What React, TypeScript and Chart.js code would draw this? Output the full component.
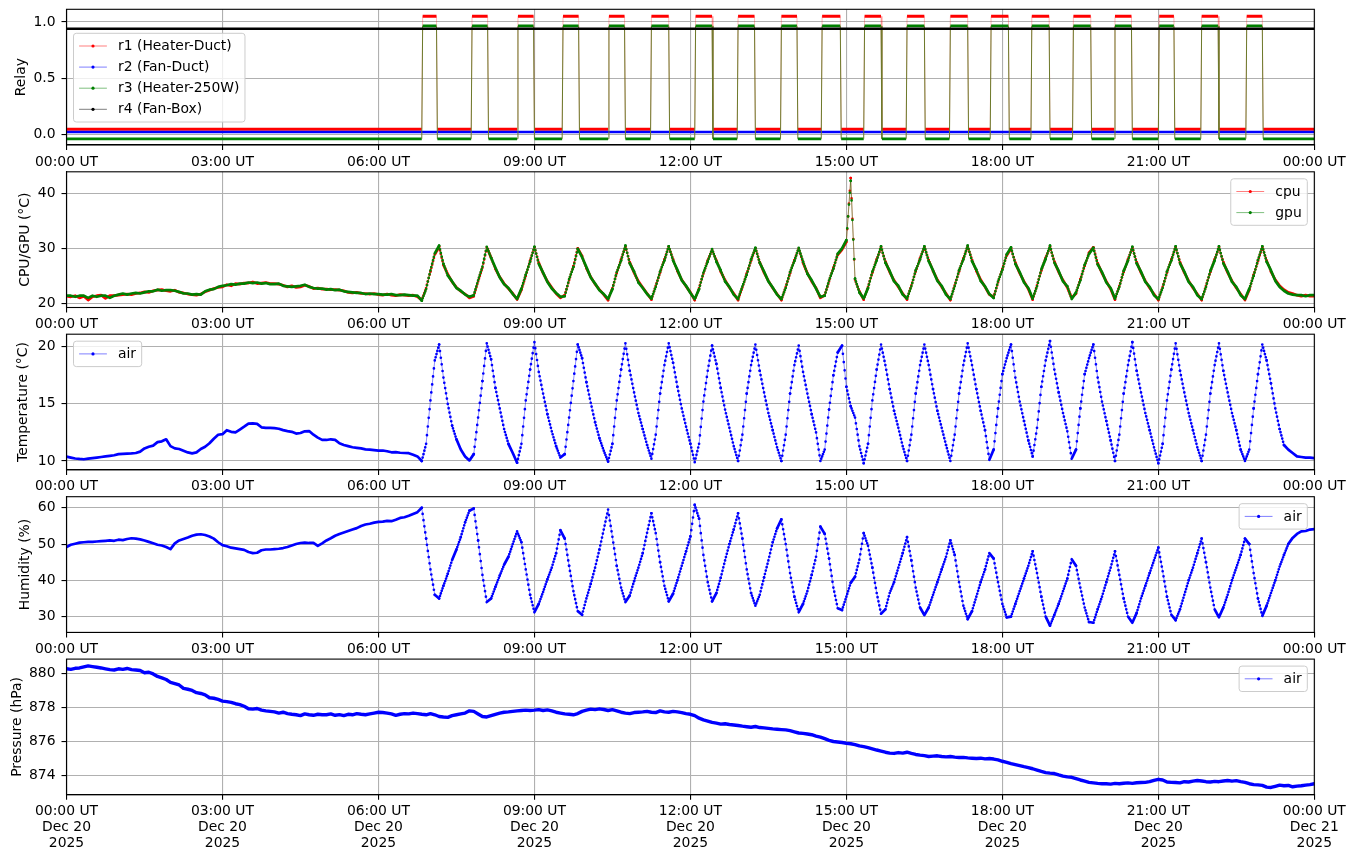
import React, { useEffect, useRef } from 'react';
import { Chart, registerables } from 'chart.js';

Chart.register(...registerables);

const FONT = "'DejaVu Sans', 'Liberation Sans', sans-serif";
const FS = 13.9;
Chart.defaults.font.family = FONT;
Chart.defaults.font.size = FS;
Chart.defaults.color = '#000';

// ---------------- data ----------------
const SAMPLE_STEP_MIN = 5; // one reading every 5 minutes, 00:00 .. 24:00
const X_TICKS = [0, 180, 360, 540, 720, 900, 1080, 1260, 1440];
const X_TICK_TIMES = ['00:00 UT', '03:00 UT', '06:00 UT', '09:00 UT', '12:00 UT', '15:00 UT', '18:00 UT', '21:00 UT', '00:00 UT'];
const X_TICK_DATES = ['Dec 20', 'Dec 20', 'Dec 20', 'Dec 20', 'Dec 20', 'Dec 20', 'Dec 20', 'Dec 20', 'Dec 21'];
const X_TICK_YEARS = ['2025', '2025', '2025', '2025', '2025', '2025', '2025', '2025', '2025'];

// heater relays (r1, r3) switch-on / switch-off minutes of the day
const HEATER_ON = [410, 467, 520, 572, 625, 674, 725, 774, 824, 871, 920, 969, 1019, 1066, 1113, 1161, 1209, 1260, 1309, 1361];
const HEATER_OFF = [427, 486, 539, 591, 644, 695, 745, 794, 843, 893, 940, 990, 1040, 1087, 1134, 1182, 1229, 1278, 1329, 1380];
const FAN_DUCT_STATE = 0;
const FAN_BOX_STATE = 1;
const RELAY_OFFSETS = [0.05, 0.025, -0.035, -0.06];
const RELAY_LABELS = ['r1 (Heater-Duct)', 'r2 (Fan-Duct)', 'r3 (Heater-250W)', 'r4 (Fan-Box)'];

const CPU_TEMP = [
  21.30,21.20,21.40,21.00,21.30,20.60,21.20,21.40,21.50,20.90,21.40,21.40,
  21.50,21.60,21.70,21.60,21.80,21.90,22.10,22.00,22.30,22.40,22.50,22.30,
  22.20,22.40,22.00,21.90,21.70,21.60,21.50,21.70,22.10,22.40,22.70,22.90,
  23.00,23.40,23.20,23.60,23.50,23.70,23.70,23.90,23.60,23.70,23.80,23.60,
  23.60,23.50,23.30,23.00,23.20,22.90,23.00,23.30,23.10,22.70,22.80,22.60,
  22.60,22.50,22.50,22.40,22.30,22.00,21.90,22.00,21.80,21.80,21.70,21.80,
  21.60,21.50,21.70,21.50,21.40,21.60,21.50,21.40,21.50,21.20,20.60,22.80,
  25.80,28.90,30.30,27.00,25.30,23.90,22.90,22.20,21.70,21.00,21.30,24.00,
  26.50,30.20,28.30,26.30,24.80,23.60,22.70,21.80,20.70,22.50,25.00,27.80,
  30.20,27.40,25.50,24.00,22.90,21.80,21.00,21.50,24.20,26.80,30.00,28.60,
  26.40,24.80,23.50,22.50,21.60,20.60,22.80,25.50,28.00,30.30,27.50,25.60,
  24.00,22.90,21.80,20.70,23.20,25.60,28.00,30.30,28.00,25.90,24.30,23.10,
  22.00,20.60,22.80,25.40,27.80,29.80,27.80,25.80,24.20,22.90,21.80,20.60,
  22.90,25.40,27.80,30.00,27.50,25.60,24.10,22.80,21.70,20.60,23.00,25.50,
  27.90,30.00,27.40,25.50,24.00,22.80,21.00,21.50,24.00,26.50,28.80,29.80,
  31.20,42.80,24.30,22.20,20.70,23.00,25.60,28.00,30.20,27.60,25.70,24.20,
  23.00,21.80,20.70,23.30,25.80,28.20,30.20,27.90,25.90,24.30,23.00,21.80,
  20.60,23.30,25.80,28.20,30.30,27.90,25.90,24.30,23.00,21.60,21.20,23.80,
  26.30,28.70,30.00,27.40,25.50,24.00,22.60,20.70,23.30,26.00,28.30,30.30,
  27.60,25.70,24.20,22.90,21.00,21.80,24.40,26.80,29.20,30.20,27.30,25.50,
  24.00,22.60,20.70,23.20,25.70,28.00,30.10,27.50,25.60,24.10,22.80,21.70,
  20.60,23.00,25.60,28.00,30.20,27.50,25.60,24.10,22.80,21.70,20.60,23.20,
  25.70,28.00,30.20,27.50,25.60,24.10,22.80,21.70,20.60,22.50,25.20,27.70,
  30.20,27.80,25.80,24.30,23.20,22.50,22.00,21.80,21.50,21.30,21.50,21.30,
  21.30,
];

const GPU_TEMP = [
  21.40,21.40,21.20,21.40,21.40,21.00,21.40,21.20,21.40,21.40,21.00,21.40,
  21.60,21.80,21.60,21.80,21.90,21.80,22.00,22.20,22.20,22.50,22.30,22.40,
  22.40,22.30,22.10,21.80,21.80,21.60,21.70,21.60,22.20,22.50,22.60,23.00,
  23.20,23.30,23.50,23.40,23.60,23.60,23.80,23.70,23.80,23.60,23.70,23.50,
  23.50,23.60,23.20,23.10,23.00,23.10,23.20,23.40,23.00,22.80,22.70,22.70,
  22.50,22.60,22.40,22.50,22.20,22.10,22.00,21.90,21.90,21.70,21.80,21.70,
  21.70,21.60,21.60,21.70,21.50,21.50,21.60,21.50,21.40,21.40,20.50,22.60,
  26.00,29.10,30.50,27.20,25.10,24.00,22.80,22.30,21.60,21.20,21.50,24.20,
  26.70,30.30,28.30,26.50,24.70,23.50,22.80,21.70,20.80,22.70,25.20,27.60,
  30.30,27.20,25.60,23.90,22.70,21.90,21.20,21.30,24.40,26.60,29.90,28.40,
  26.60,24.70,23.60,22.40,21.70,20.80,22.60,25.70,27.80,30.50,27.30,25.80,
  23.80,22.80,21.70,20.90,23.00,25.80,27.80,30.40,27.80,26.10,24.20,23.20,
  21.90,20.80,22.60,25.60,27.60,29.90,27.60,26.00,24.00,23.00,21.60,20.80,
  23.10,25.20,28.00,30.10,27.40,25.80,24.00,22.90,21.60,20.80,22.80,25.70,
  27.70,30.10,27.60,25.40,24.20,22.70,21.20,21.40,24.20,26.30,29.00,30.00,
  31.50,42.30,24.50,22.00,20.90,22.80,25.80,27.80,30.40,27.40,25.90,24.00,
  23.20,21.60,20.90,23.10,26.00,28.00,30.40,27.70,26.00,24.10,23.20,21.60,
  20.80,23.10,26.00,28.00,30.50,27.70,26.10,24.10,23.10,21.70,21.00,24.00,
  26.10,28.90,30.20,27.20,25.70,23.80,22.80,20.90,23.10,26.20,28.10,30.50,
  27.40,25.90,24.00,23.10,20.80,22.00,24.20,27.00,29.00,30.10,27.10,25.70,
  23.80,22.80,20.90,23.00,25.90,27.80,30.30,27.30,25.80,23.90,23.00,21.50,
  20.80,22.80,25.80,27.80,30.40,27.30,25.80,23.90,23.00,21.50,20.80,23.00,
  25.90,27.80,30.40,27.30,25.80,23.90,23.00,21.50,20.80,22.70,25.00,27.90,
  30.40,27.60,26.00,24.10,23.00,22.30,21.80,21.60,21.50,21.50,21.30,21.50,
  21.50,
];

const AIR_TEMP = [
  10.38,10.30,10.22,10.18,10.15,10.20,10.25,10.30,10.35,10.40,10.45,10.50,
  10.60,10.63,10.65,10.67,10.70,10.82,11.10,11.25,11.35,11.65,11.72,11.90,
  11.30,11.10,11.05,10.90,10.75,10.67,10.75,11.05,11.25,11.55,11.95,12.30,
  12.35,12.70,12.55,12.50,12.75,13.00,13.27,13.30,13.25,12.95,12.90,12.90,
  12.87,12.82,12.70,12.62,12.55,12.40,12.45,12.60,12.62,12.30,12.05,11.85,
  11.84,11.90,11.85,11.55,11.40,11.30,11.20,11.15,11.10,11.02,11.00,10.95,
  10.90,10.92,10.85,10.76,10.78,10.72,10.70,10.68,10.55,10.40,10.00,11.50,
  15.30,18.80,20.20,17.30,15.00,13.10,11.90,11.00,10.40,10.05,10.60,13.80,
  17.00,20.30,18.90,16.40,14.60,12.80,11.50,10.70,9.85,11.50,15.30,18.00,
  20.40,17.80,15.90,14.10,12.60,11.30,10.30,10.60,13.80,17.00,20.20,19.00,
  16.90,15.10,13.40,12.00,10.90,9.95,11.50,15.30,18.00,20.30,17.90,16.00,
  14.20,12.80,11.40,10.20,12.30,15.90,18.40,20.30,18.60,16.50,14.60,13.00,
  11.50,9.90,11.50,15.20,17.90,20.10,18.50,16.40,14.50,12.90,11.30,10.00,
  12.30,15.90,18.40,20.20,17.90,16.00,14.20,12.70,11.20,10.00,12.30,15.90,
  18.40,20.10,17.80,15.90,14.10,12.50,10.00,11.00,14.50,17.50,19.50,20.10,
  16.50,14.80,13.80,11.30,9.80,11.50,15.30,18.00,20.20,18.40,16.30,14.40,
  12.90,11.30,10.00,12.30,15.90,18.40,20.20,18.40,16.30,14.40,12.90,11.40,
  10.00,12.30,15.90,18.40,20.30,18.40,16.30,14.40,12.70,10.10,11.00,14.60,
  17.60,19.00,20.20,17.30,15.20,13.50,11.80,10.40,12.90,16.50,18.80,20.50,
  18.00,16.00,14.20,12.60,10.20,11.00,14.60,17.60,19.00,20.20,17.30,15.20,
  13.50,11.80,10.00,12.30,15.90,18.40,20.40,17.90,16.00,14.20,12.70,11.20,
  9.80,11.50,15.30,18.00,20.30,17.90,16.00,14.20,12.70,11.20,10.00,12.30,
  15.90,18.40,20.30,17.90,16.00,14.20,12.70,11.00,10.00,11.00,14.60,17.60,
  20.20,18.80,16.80,14.60,12.80,11.40,11.00,10.70,10.40,10.35,10.30,10.30,
  10.25,
];

const AIR_HUMIDITY = [
  49.20,49.80,50.10,50.40,50.50,50.60,50.60,50.70,50.80,50.90,51.00,50.90,
  51.20,51.10,51.40,51.60,51.50,51.30,51.00,50.60,50.20,49.80,49.60,49.20,
  48.60,50.20,51.00,51.40,51.80,52.30,52.60,52.70,52.50,52.10,51.50,50.50,
  49.70,49.40,49.00,48.80,48.60,48.40,47.80,47.50,47.60,48.30,48.50,48.50,
  48.60,48.70,48.90,49.20,49.60,50.00,50.30,50.40,50.30,50.30,49.50,50.20,
  51.00,51.60,52.30,52.80,53.20,53.60,54.00,54.40,55.00,55.40,55.60,55.90,
  56.10,56.20,56.40,56.30,56.70,57.20,57.40,57.80,58.30,58.80,60.00,51.50,
  43.00,36.00,35.00,38.50,41.80,45.60,48.50,51.90,56.00,59.20,59.80,51.00,
  41.50,34.00,35.00,38.20,41.30,44.30,46.50,50.00,53.50,50.50,43.00,36.00,
  31.20,33.50,36.80,40.30,43.50,47.50,53.80,51.50,44.00,37.00,31.50,30.50,
  35.00,39.00,43.50,48.50,54.00,59.50,52.00,44.00,38.00,34.00,35.80,39.80,
  43.50,47.50,53.10,58.50,53.00,45.00,38.50,34.20,36.30,40.00,44.00,48.00,
  52.10,60.80,57.00,47.00,39.50,34.20,36.50,40.70,45.50,50.00,54.00,58.50,
  51.50,43.00,36.50,33.00,36.00,40.80,45.50,50.50,54.30,56.80,50.00,42.00,
  35.50,31.20,33.50,37.00,41.50,46.50,54.80,52.80,46.00,38.00,32.30,31.80,
  35.50,39.30,41.00,45.70,53.00,49.50,43.50,36.50,30.80,32.00,36.50,39.50,
  43.50,47.50,51.90,45.50,38.00,32.50,30.40,32.50,36.00,39.50,43.00,46.50,
  51.00,47.00,39.50,33.00,29.30,31.50,35.50,39.50,43.00,47.50,46.00,39.50,
  33.50,29.80,30.00,33.50,37.00,40.50,44.00,48.00,42.00,35.50,30.00,27.50,
  30.50,33.50,37.00,40.50,45.80,44.00,38.00,32.50,28.50,28.30,32.00,35.50,
  39.50,43.50,48.00,41.50,35.00,30.00,28.30,31.00,35.00,38.50,42.00,45.50,
  49.00,42.50,35.50,30.50,29.00,32.00,36.00,40.00,43.50,47.50,51.50,45.00,
  38.00,32.00,29.80,32.50,36.00,40.00,43.50,47.00,51.50,50.00,42.00,35.00,
  30.20,33.00,36.50,40.00,43.80,47.00,50.00,51.70,52.80,53.50,53.60,54.00,
  54.10,
];

const AIR_PRESSURE = [
  880.25,880.22,880.28,880.30,880.36,880.42,880.38,880.34,880.30,880.25,880.20,880.18,
  880.25,880.22,880.27,880.20,880.18,880.15,880.02,880.05,879.95,879.80,879.72,879.62,
  879.45,879.38,879.30,879.10,879.05,878.98,878.85,878.80,878.72,878.55,878.52,878.45,
  878.35,878.32,878.28,878.20,878.15,878.05,877.90,877.88,877.92,877.82,877.78,877.75,
  877.72,877.65,877.70,877.62,877.58,877.55,877.50,877.60,877.55,877.52,877.58,877.55,
  877.55,877.60,877.52,877.56,877.50,877.58,877.55,877.62,877.58,877.55,877.60,877.65,
  877.70,877.68,877.65,877.60,877.52,877.58,877.62,877.60,877.65,877.62,877.58,877.55,
  877.62,877.55,877.45,877.42,877.40,877.50,877.55,877.60,877.65,877.78,877.75,877.60,
  877.45,877.42,877.50,877.58,877.65,877.70,877.72,877.75,877.78,877.80,877.82,877.80,
  877.82,877.85,877.80,877.84,877.78,877.70,877.65,877.60,877.58,877.55,877.62,877.75,
  877.82,877.88,877.85,877.90,877.86,877.80,877.85,877.78,877.70,877.65,877.62,877.68,
  877.70,877.72,877.75,877.70,877.68,877.78,877.72,877.70,877.75,877.72,877.68,877.62,
  877.58,877.50,877.35,877.25,877.18,877.10,877.06,877.00,877.02,876.98,876.95,876.92,
  876.88,876.85,876.82,876.86,876.80,876.78,876.75,876.72,876.70,876.68,876.66,876.62,
  876.55,876.48,876.46,876.42,876.38,876.30,876.24,876.15,876.05,875.98,875.95,875.92,
  875.88,875.85,875.80,875.72,875.68,875.62,875.55,875.48,875.42,875.35,875.30,875.28,
  875.33,875.30,875.35,875.28,875.22,875.18,875.15,875.10,875.12,875.14,875.10,875.08,
  875.10,875.06,875.04,875.05,875.02,875.00,874.98,875.00,874.96,874.98,874.95,874.90,
  874.82,874.76,874.68,874.62,874.56,874.50,874.45,874.38,874.30,874.22,874.15,874.12,
  874.10,874.02,873.95,873.90,873.88,873.80,873.72,873.65,873.58,873.55,873.52,873.50,
  873.50,873.48,873.52,873.50,873.53,873.55,873.52,873.56,873.57,873.58,873.62,873.70,
  873.76,873.72,873.60,873.58,873.57,873.55,873.62,873.60,873.65,873.69,873.66,873.62,
  873.60,873.64,873.62,873.66,873.69,873.65,873.68,873.62,873.58,873.50,873.45,873.43,
  873.40,873.30,873.28,873.35,873.42,873.38,873.40,873.32,873.36,873.38,873.42,873.45,
  873.50,
];

const RELAY_TICKS = [0, 0.5, 1];
const RELAY_TICK_LABELS = ['0.0', '0.5', '1.0'];
const CPU_TICKS = [20, 30, 40];
const CPU_TICK_LABELS = ['20', '30', '40'];
const TEMP_TICKS = [10, 15, 20];
const TEMP_TICK_LABELS = ['10', '15', '20'];
const HUM_TICKS = [30, 40, 50, 60];
const HUM_TICK_LABELS = ['30', '40', '50', '60'];
const PRES_TICKS = [874, 876, 878, 880];
const PRES_TICK_LABELS = ['874', '876', '878', '880'];

// ---------------- helpers ----------------
const PLOT_H = 135.7;
const Y_AXIS_W = 66.5;
const RIGHT_PAD = 1355 - 1314.3;
const MARKS_PER_SEGMENT = 5; // the logger wrote one reading per minute

function withAlpha(hex: string, a: number) {
  const n = parseInt(hex.slice(1), 16);
  return `rgba(${(n >> 16) & 255},${(n >> 8) & 255},${n & 255},${a})`;
}

function toPoints(values: number[]) {
  return values.map((v, i) => ({ x: i * SAMPLE_STEP_MIN, y: v }));
}

function stepPoints(on: number[], off: number[], low: number, high: number) {
  const pts: { x: number; y: number }[] = [{ x: 0, y: low }];
  on.forEach((t, i) => {
    pts.push({ x: t, y: low }, { x: t + 1, y: high }, { x: off[i], y: high }, { x: off[i] + 1, y: low });
  });
  pts.push({ x: 1440, y: low });
  return pts;
}

function constPoints(v: number) {
  return [{ x: 0, y: v }, { x: 1440, y: v }];
}

const flat = (c: any) => Math.abs(c.p1.y - c.p0.y) < 0.5;

// marker-chain look: dots along the line at the logger's sampling density
function chainDash(c: any) {
  const len = Math.hypot(c.p1.x - c.p0.x, c.p1.y - c.p0.y);
  const step = len / MARKS_PER_SEGMENT;
  return step < 2.3 ? [] : [0, step];
}

function sensorDatasets(label: string, values: number[], color: string, order: number, width = 2.7) {
  const faint = withAlpha(color, 0.5);
  const data = toPoints(values);
  return [
    {
      label,
      data,
      order,
      mplColor: color,
      mplFaint: faint,
      borderColor: color,
      borderWidth: width,
      borderCapStyle: 'round',
      borderJoinStyle: 'round',
      pointRadius: 0,
      pointHoverRadius: 0,
      pointHitRadius: 0,
      segment: { borderDash: chainDash },
    },
    {
      label,
      data,
      order: order + 0.5,
      mplSkipLegend: true,
      borderColor: faint,
      borderWidth: 0.9,
      pointRadius: 0,
      pointHoverRadius: 0,
      pointHitRadius: 0,
    },
  ];
}

function relayDataset(label: string, data: any[], color: string, transColor: string, transW: number, bandW: number, order: number) {
  return {
    label,
    data,
    order,
    mplColor: color,
    mplFaint: withAlpha(color, 0.5),
    borderColor: color,
    borderWidth: bandW,
    pointRadius: 0,
    pointHoverRadius: 0,
    pointHitRadius: 0,
    segment: {
      borderColor: (c: any) => (flat(c) ? color : transColor),
      borderWidth: (c: any) => (flat(c) ? bandW : transW),
    },
  };
}

const framePlugin = {
  id: 'mplFrame',
  afterDatasetsDraw(chart: any) {
    const { ctx, chartArea: a } = chart;
    ctx.save();
    ctx.strokeStyle = '#000';
    ctx.lineWidth = 1.1;
    ctx.strokeRect(a.left, a.top, a.right - a.left, a.bottom - a.top);
    ctx.restore();
  },
};

function legendPlugin(corner: 'tl' | 'tr', dy: number) {
  return {
    id: 'mplLegend',
    afterDraw(chart: any) {
      const { ctx, chartArea: a } = chart;
      const items = chart.data.datasets.filter((d: any) => !d.mplSkipLegend);
      ctx.save();
      ctx.font = `${FS}px ${FONT}`;
      const textW = Math.max(...items.map((d: any) => ctx.measureText(d.label).width));
      const pad = 5.6, handle = 27.8, gap = 11.1, rowH = 14.2, spacing = 6.9;
      const w = pad + handle + gap + textW + pad;
      const h = 2 * pad + items.length * rowH + (items.length - 1) * spacing;
      const x = corner === 'tl' ? a.left + 7 : a.right - 7 - w;
      const y = a.top + dy;
      const r = 2.8;
      ctx.beginPath();
      ctx.moveTo(x + r, y);
      ctx.lineTo(x + w - r, y);
      ctx.arcTo(x + w, y, x + w, y + r, r);
      ctx.lineTo(x + w, y + h - r);
      ctx.arcTo(x + w, y + h, x + w - r, y + h, r);
      ctx.lineTo(x + r, y + h);
      ctx.arcTo(x, y + h, x, y + h - r, r);
      ctx.lineTo(x, y + r);
      ctx.arcTo(x, y, x + r, y, r);
      ctx.closePath();
      ctx.fillStyle = 'rgba(255,255,255,0.8)';
      ctx.fill();
      ctx.strokeStyle = '#cccccc';
      ctx.lineWidth = 1;
      ctx.stroke();
      items.forEach((d: any, i: number) => {
        const cy = y + pad + rowH / 2 + i * (rowH + spacing);
        ctx.beginPath();
        ctx.moveTo(x + pad, cy);
        ctx.lineTo(x + pad + handle, cy);
        ctx.strokeStyle = d.mplFaint;
        ctx.lineWidth = 1;
        ctx.stroke();
        ctx.beginPath();
        ctx.arc(x + pad + handle / 2, cy, 1.6, 0, Math.PI * 2);
        ctx.fillStyle = d.mplColor;
        ctx.fill();
        ctx.fillStyle = '#000';
        ctx.textBaseline = 'middle';
        ctx.textAlign = 'left';
        ctx.fillText(d.label, x + pad + handle + gap, cy + 0.5);
      });
      ctx.restore();
    },
  };
}

type Spec = {
  top: number;
  padTop: number;
  height: number;
  showDate: boolean;
  yMin: number;
  yMax: number;
  yTicks: number[];
  yLabels: string[];
  title: string;
  titlePad: number;
  legend: { corner: 'tl' | 'tr'; dy: number };
  datasets: () => any[];
};

const gridOpts = { color: '#b0b0b0', lineWidth: 1.1, tickColor: '#000', tickLength: 5, tickWidth: 1.1, drawTicks: true };
const borderOpts = { display: true, color: '#000', width: 1.1 };

function makeConfig(spec: Spec): any {
  const xH = spec.height - spec.padTop - PLOT_H;
  return {
    type: 'line',
    data: { datasets: spec.datasets() },
    options: {
      animation: false,
      responsive: true,
      maintainAspectRatio: false,
      events: [],
      layout: { padding: { top: spec.padTop, left: 0, right: RIGHT_PAD, bottom: 0 } },
      plugins: { legend: { display: false }, tooltip: { enabled: false } },
      scales: {
        x: {
          type: 'linear',
          min: 0,
          max: 1440,
          offset: false,
          afterBuildTicks: (s: any) => {
            s.ticks = X_TICKS.map((v) => ({ value: v }));
          },
          afterFit: (s: any) => {
            s.height = xH;
            s.paddingLeft = 0;
            s.paddingRight = 0;
          },
          ticks: {
            autoSkip: false,
            maxRotation: 0,
            minRotation: 0,
            padding: 4,
            color: '#000',
            font: { family: FONT, size: FS, lineHeight: 1.14 },
            callback: (v: number) => {
              const i = X_TICKS.indexOf(v);
              return spec.showDate ? [X_TICK_TIMES[i], X_TICK_DATES[i], X_TICK_YEARS[i]] : X_TICK_TIMES[i];
            },
          },
          grid: gridOpts,
          border: borderOpts,
        },
        y: {
          type: 'linear',
          min: spec.yMin,
          max: spec.yMax,
          afterBuildTicks: (s: any) => {
            s.ticks = spec.yTicks.map((v) => ({ value: v }));
          },
          afterFit: (s: any) => {
            s.width = Y_AXIS_W;
            s.paddingTop = 0;
            s.paddingBottom = 0;
          },
          ticks: {
            padding: 6,
            color: '#000',
            font: { family: FONT, size: FS },
            callback: (v: number) => spec.yLabels[spec.yTicks.indexOf(v)],
          },
          grid: gridOpts,
          border: borderOpts,
          title: {
            display: true,
            text: spec.title,
            color: '#000',
            font: { family: FONT, size: FS },
            padding: { top: spec.titlePad, bottom: 0 },
          },
        },
      },
    },
    plugins: [framePlugin, legendPlugin(spec.legend.corner, spec.legend.dy)],
  };
}

const PANELS: Spec[] = [
  {
    top: 4, padTop: 5.3, height: 167, showDate: false,
    yMin: -0.09, yMax: 1.112, yTicks: RELAY_TICKS, yLabels: RELAY_TICK_LABELS,
    title: 'Relay', titlePad: 13.2, legend: { corner: 'tl', dy: 24 },
    datasets: () => [
      relayDataset(RELAY_LABELS[0], stepPoints(HEATER_ON, HEATER_OFF, RELAY_OFFSETS[0], 1 + RELAY_OFFSETS[0]), '#ff0000', 'rgba(255,0,0,0.35)', 0.8, 3, 3),
      relayDataset(RELAY_LABELS[1], constPoints(FAN_DUCT_STATE + RELAY_OFFSETS[1]), '#0000ff', 'rgba(0,0,255,0.5)', 0.8, 2.6, 2),
      relayDataset(RELAY_LABELS[2], stepPoints(HEATER_ON, HEATER_OFF, RELAY_OFFSETS[2], 1 + RELAY_OFFSETS[2]), '#008000', '#6b7a2a', 1, 2.8, 1),
      relayDataset(RELAY_LABELS[3], constPoints(FAN_BOX_STATE + RELAY_OFFSETS[3]), '#000000', 'rgba(0,0,0,0.5)', 0.8, 2.6, 0),
    ],
  },
  {
    top: 167, padTop: 4.8, height: 167, showDate: false,
    yMin: 19.25, yMax: 43.95, yTicks: CPU_TICKS, yLabels: CPU_TICK_LABELS,
    title: 'CPU/GPU (°C)', titlePad: 17.0, legend: { corner: 'tr', dy: 7 },
    datasets: () => [
      ...sensorDatasets('cpu', CPU_TEMP, '#ff0000', 2),
      ...sensorDatasets('gpu', GPU_TEMP, '#008000', 0),
    ],
  },
  {
    top: 329, padTop: 5.2, height: 167, showDate: false,
    yMin: 9.22, yMax: 21.1, yTicks: TEMP_TICKS, yLabels: TEMP_TICK_LABELS,
    title: 'Temperature (°C)', titlePad: 15.2, legend: { corner: 'tl', dy: 7 },
    datasets: () => sensorDatasets('air', AIR_TEMP, '#0000ff', 0),
  },
  {
    top: 492, padTop: 4.7, height: 167, showDate: false,
    yMin: 25.64, yMax: 63.06, yTicks: HUM_TICKS, yLabels: HUM_TICK_LABELS,
    title: 'Humidity (%)', titlePad: 16.7, legend: { corner: 'tr', dy: 7 },
    datasets: () => sensorDatasets('air', AIR_HUMIDITY, '#0000ff', 0),
  },
  {
    top: 654, padTop: 5.1, height: 207, showDate: true,
    yMin: 872.85, yMax: 880.82, yTicks: PRES_TICKS, yLabels: PRES_TICK_LABELS,
    title: 'Pressure (hPa)', titlePad: 9.2, legend: { corner: 'tr', dy: 7 },
    datasets: () => sensorDatasets('air', AIR_PRESSURE, '#0000ff', 0, 3.4),
  },
];

function Panel({ spec }: { spec: Spec }) {
  const ref = useRef<HTMLCanvasElement | null>(null);
  useEffect(() => {
    if (!ref.current) return;
    const chart = new Chart(ref.current, makeConfig(spec));
    return () => chart.destroy();
  }, [spec]);
  return (
    <div style={{ position: 'absolute', left: 0, top: spec.top, width: 1355, height: spec.height }}>
      <canvas ref={ref} />
    </div>
  );
}

export default function App() {
  return (
    <div style={{ position: 'absolute', left: 0, top: 0, width: 1355, height: 861, background: '#fff', overflow: 'hidden' }}>
      {PANELS.map((p, i) => (
        <Panel key={i} spec={p} />
      ))}
    </div>
  );
}
